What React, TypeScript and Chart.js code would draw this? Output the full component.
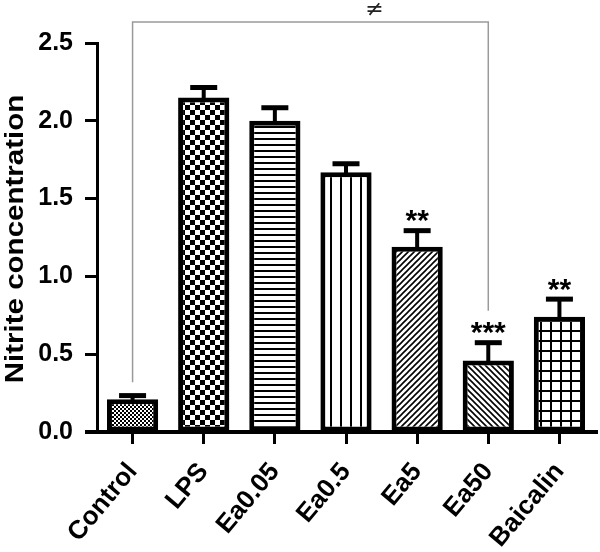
import React, { useEffect, useRef } from "react";
import { Chart, registerables } from "chart.js";

Chart.register(...registerables);

// ---- data ----
const categories = ["Control", "LPS", "Ea0.05", "Ea0.5", "Ea5", "Ea50", "Baicalin"];
const nitriteMeans = [0.21, 2.15, 2.0, 1.67, 1.19, 0.46, 0.74];
const nitriteErrors = [0.04, 0.08, 0.1, 0.07, 0.12, 0.13, 0.13];
const significance = ["", "", "", "", "**", "***", "**"];
const yTickValues = [0, 0.5, 1.0, 1.5, 2.0, 2.5];
const bracketEnds = ["Control", "Ea50"];
const bracketEndValues = [0.32, 0.78];
const bracketLabel = "≠";
const yTitle = "Nitrite concentration";
const barPatterns = ["fineChecker", "checker", "hLines", "vLines", "diagUp", "diagDown", "grid"];

const FONT = "'Liberation Sans', Arial, sans-serif";

function makePattern(kind: string): CanvasPattern | string {
  const c = document.createElement("canvas");
  let s = 10;
  if (kind === "fineChecker") s = 4;
  else if (kind === "hLines") s = 6;
  else if (kind === "diagUp" || kind === "diagDown") s = 6;
  c.width = s;
  c.height = s;
  const g = c.getContext("2d");
  if (!g) return "#fff";
  g.fillStyle = "#fff";
  g.fillRect(0, 0, s, s);
  g.fillStyle = "#000";
  g.strokeStyle = "#000";
  switch (kind) {
    case "fineChecker":
      g.fillRect(0, 0, 2, 2);
      g.fillRect(2, 2, 2, 2);
      break;
    case "checker":
      g.fillRect(0, 0, 5, 5);
      g.fillRect(5, 5, 5, 5);
      break;
    case "hLines":
      g.fillRect(0, 0, s, 2);
      break;
    case "vLines":
      g.fillRect(0, 0, 2, s);
      break;
    case "grid":
      g.fillRect(0, 0, s, 2);
      g.fillRect(0, 0, 2, s);
      break;
    case "diagUp":
      g.lineWidth = 1.6;
      g.beginPath();
      g.moveTo(0, s); g.lineTo(s, 0);
      g.moveTo(-1, 1); g.lineTo(1, -1);
      g.moveTo(s - 1, s + 1); g.lineTo(s + 1, s - 1);
      g.stroke();
      break;
    case "diagDown":
      g.lineWidth = 1.6;
      g.beginPath();
      g.moveTo(0, 0); g.lineTo(s, s);
      g.moveTo(-1, s - 1); g.lineTo(1, s + 1);
      g.moveTo(s - 1, -1); g.lineTo(s + 1, 1);
      g.stroke();
      break;
  }
  const ctx = document.createElement("canvas").getContext("2d");
  return (ctx && ctx.createPattern(c, "repeat")) || "#fff";
}

const decorPlugin = {
  id: "decor",
  beforeDatasetsDraw(chart: any) {
    const { ctx, chartArea, scales } = chart;
    const xs = scales.x;
    const ys = scales.y;
    const xL = xs.getPixelForValue(categories.indexOf(bracketEnds[0]));
    const xR = xs.getPixelForValue(categories.indexOf(bracketEnds[1]));
    const topY = chartArea.top - 21;
    ctx.save();
    ctx.strokeStyle = "#9a9a9a";
    ctx.lineWidth = 1.5;
    ctx.beginPath();
    ctx.moveTo(xL, ys.getPixelForValue(bracketEndValues[0]));
    ctx.lineTo(xL, topY);
    ctx.lineTo(xR, topY);
    ctx.lineTo(xR, ys.getPixelForValue(bracketEndValues[1]));
    ctx.stroke();
    ctx.fillStyle = "#222";
    ctx.font = `22px 'DejaVu Sans', sans-serif`;
    ctx.textAlign = "center";
    ctx.textBaseline = "middle";
    ctx.fillText(bracketLabel, xs.getPixelForValue(3.4), topY - 12);
    ctx.restore();
  },
  afterDatasetsDraw(chart: any) {
    const { ctx, chartArea, scales } = chart;
    const ys = scales.y;
    const meta = chart.getDatasetMeta(0);
    ctx.save();
    ctx.fillStyle = "#000";
    ctx.strokeStyle = "#000";
    meta.data.forEach((el: any, i: number) => {
      const x = el.x;
      const yBar = el.y;
      const yTop = ys.getPixelForValue(nitriteMeans[i] + nitriteErrors[i]);
      ctx.lineWidth = 4;
      ctx.beginPath();
      ctx.moveTo(x, yBar + 2);
      ctx.lineTo(x, yTop + 2);
      ctx.stroke();
      ctx.fillRect(x - 13.5, yTop, 27, 5);
      if (significance[i]) {
        ctx.font = `bold 30px ${FONT}`;
        ctx.textAlign = "center";
        ctx.textBaseline = "alphabetic";
        ctx.fillText(significance[i], x, yTop + 2);
      }
    });
    // x axis line, extended to the left like the reference
    ctx.lineWidth = 4;
    ctx.beginPath();
    ctx.moveTo(chartArea.left - 12, chartArea.bottom);
    ctx.lineTo(chartArea.right + 3, chartArea.bottom);
    ctx.stroke();
    // y axis title
    ctx.save();
    ctx.translate(16, 239);
    ctx.rotate(-Math.PI / 2);
    ctx.scale(1.18, 1);
    ctx.font = `bold 25px ${FONT}`;
    ctx.textAlign = "center";
    ctx.textBaseline = "middle";
    ctx.fillText(yTitle, 0, 0);
    ctx.restore();
    ctx.restore();
  },
};

export default function App() {
  const ref = useRef<HTMLCanvasElement | null>(null);
  useEffect(() => {
    if (!ref.current) return;
    const chart = new Chart(ref.current, {
      type: "bar",
      data: {
        labels: categories,
        datasets: [
          {
            data: nitriteMeans,
            backgroundColor: barPatterns.map(makePattern) as any,
            borderColor: "#000",
            borderWidth: 5,
            borderSkipped: false,
            barPercentage: 0.72,
            categoryPercentage: 1,
          },
        ],
      },
      options: {
        responsive: false,
        animation: false,
        devicePixelRatio: 1,
        layout: { padding: { top: 43, right: 5, left: 0, bottom: 0 } },
        plugins: { legend: { display: false }, tooltip: { enabled: false } },
        scales: {
          x: {
            grid: { drawOnChartArea: false, offset: false, tickLength: 12, tickWidth: 3, color: "#000" },
            border: { display: false },
            ticks: {
              color: "#000",
              font: { family: FONT, size: 26, weight: "bold" },
              minRotation: 50,
              maxRotation: 50,
              padding: 13,
            },
            afterFit(s: any) {
              s.height = 120;
            },
          },
          y: {
            min: 0,
            max: 2.5,
            afterBuildTicks(s: any) {
              s.ticks = yTickValues.map((v) => ({ value: v }));
            },
            ticks: {
              color: "#000",
              font: { family: FONT, size: 25, weight: "bold" },
              padding: 12,
              callback: (v: any) => Number(v).toFixed(1),
            },
            grid: { drawOnChartArea: false, tickLength: 12, tickWidth: 3, color: "#000" },
            border: { display: true, width: 3, color: "#000" },
            afterFit(s: any) {
              s.width = 97;
            },
          },
        },
      } as any,
      plugins: [decorPlugin],
    });
    return () => chart.destroy();
  }, []);
  return (
    <div style={{ position: "absolute", left: 0, top: 0, width: 600, height: 552, background: "#fff" }}>
      <canvas ref={ref} width={600} height={552} style={{ display: "block" }} />
    </div>
  );
}
